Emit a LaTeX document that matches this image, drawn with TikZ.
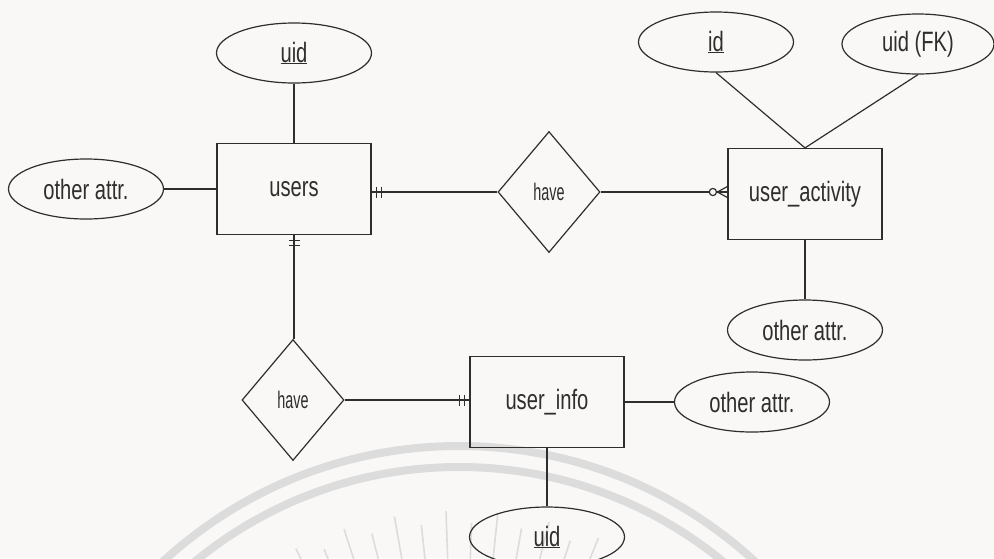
\documentclass[tikz,border=0pt]{standalone}
\usepackage{fontspec}
\setmainfont{Liberation Sans}[FakeStretch=0.72]
\newfontfamily\relfont{Liberation Sans}[FakeStretch=0.6]
\usetikzlibrary{shapes.geometric}

\definecolor{paper}{HTML}{FAF8F6}
\definecolor{ink}{HTML}{2E2E2E}
\definecolor{seal}{HTML}{DCDCDC}

\tikzset{
  entity/.style={rectangle, draw, minimum width=154pt, minimum height=91pt,
    inner sep=0pt, font=\fontsize{28}{30}\selectfont},
  attr/.style={ellipse, draw, minimum width=155pt, minimum height=60pt,
    inner sep=0pt, font=\fontsize{28}{30}\selectfont},
  rel/.style={diamond, draw, minimum width=102pt, minimum height=121pt,
    inner sep=0pt, font=\relfont\fontsize{24}{26}\selectfont},
  % crow's foot notation, drawn with +x pointing away from the entity
  onlyone/.pic={\draw (5,-5.5) -- (5,5.5) (10,-5.5) -- (10,5.5);},
  zeromany/.pic={\draw (10,0) -- (0,-5.5) (10,0) -- (0,5.5);
    \draw[fill=paper] (14.5,0) circle (3.6);},
}

\begin{document}
\begin{tikzpicture}[x=1pt, y=-1pt, color=ink, line width=1.2pt]
  % page
  \fill[paper] (0,0) rectangle (994,558);
  \useasboundingbox (0,0) rectangle (994,558);

  % faint seal printed behind the diagram
  \begin{scope}
    \clip (0,0) rectangle (994,558);
    \draw[seal, line width=8pt] (459,883) circle (437);
    \draw[seal, line width=8pt] (459,883) circle (416);
    \foreach \a [count=\i] in {64,68,...,116} {
      \pgfmathsetmacro\r{isodd(\i) ? 372 : 360}
      \draw[seal, line width=1.6pt] (459,883) ++(\a:-300) -- ++(\a:-\r+300);
    }
  \end{scope}

  % entities
  \node[entity] (users) at (294,189) {users};
  \node[entity] (ua)    at (805,194) {user\_activity};
  \node[entity] (ui)    at (547,402) {user\_info};

  % relationships
  \node[rel] (have1) at (549,192) {have};
  \node[rel] (have2) at (293,400) {have};

  % attributes
  \node[attr] (uidA)    at (294,53)  {\underline{uid}};
  \node[attr] (otherA)  at (86,189)  {other attr.};
  \node[attr] (idE)     at (716,42)  {\underline{id}};
  \node[attr, minimum width=152pt] (fkE) at (918,44) {uid (FK)};
  \node[attr] (otherUA) at (805,330) {other attr.};
  \node[attr] (otherUI) at (752,402) {other attr.};
  \node[attr] (uidB)    at (547,537) {\underline{uid}};

  % attribute links
  \draw (uidA) -- (users);
  \draw (otherA) -- (users);
  \draw (idE.south) -- (ua.north);
  \draw (fkE.south) -- (ua.north);
  \draw (ua) -- (otherUA);
  \draw (ui) -- (otherUI);
  \draw (ui) -- (uidB);

  % relationship links
  \draw (users.east |- have1.west) -- (have1.west);
  \draw (have1.east) -- (have1.east -| ua.west);
  \draw (users.south) -- (users.south |- have2.north);
  \draw (have2.east) -- (have2.east -| ui.west);

  % cardinalities
  \pic at (users.east |- have1.west) {onlyone};
  \pic[rotate=-90] at (users.south) {onlyone};
  \pic[rotate=180] at (have2.east -| ui.west) {onlyone};
  \pic[rotate=180] at (have1.east -| ua.west) {zeromany};
\end{tikzpicture}
\end{document}
